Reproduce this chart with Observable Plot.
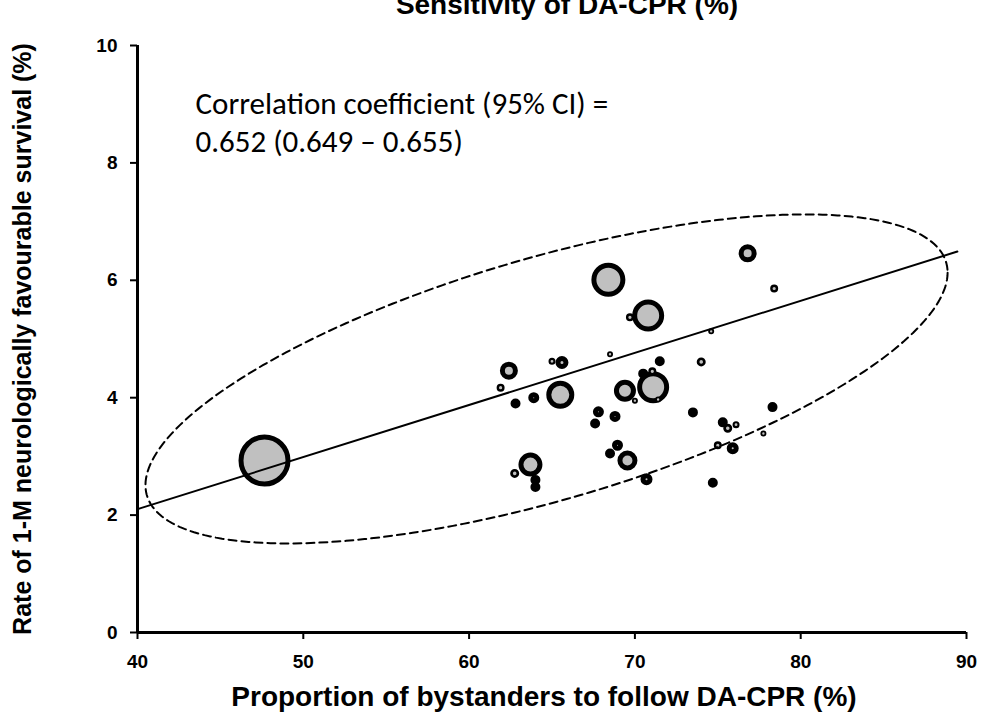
<!DOCTYPE html>
<html>
<head>
<meta charset="utf-8">
<script src="https://cdn.jsdelivr.net/npm/d3@7"></script>
<script src="https://cdn.jsdelivr.net/npm/@observablehq/plot@0.6"></script>
<style>
  html, body { margin: 0; padding: 0; background: #fff; }
  #chart { width: 983px; height: 728px; overflow: hidden; }
</style>
</head>
<body>
<div id="chart"></div>
<script>
// ---- Data ----
const bystanderPct = [47.66, 68.4, 70.8, 71.1, 65.5, 63.7, 69.55, 69.4, 62.4, 76.8,
  70.7, 65.6, 67.8, 68.8, 68.95, 68.5, 67.6, 62.8, 63.9, 71.5,
  74.0, 73.5, 78.3, 75.3, 75.6, 76.1, 77.75, 75.0, 75.9, 74.7,
  78.4, 74.6, 68.5, 65.0, 61.9, 62.75, 64.0, 64.0, 69.7, 70.5,
  71.05, 70.0, 71.4];
const survivalRate = [2.93, 6.01, 5.40, 4.18, 4.05, 2.86, 2.93, 4.12, 4.46, 6.46,
  2.61, 4.60, 3.76, 3.68, 3.19, 3.05, 3.56, 3.90, 4.00, 4.62,
  4.61, 3.75, 3.84, 3.58, 3.48, 3.54, 3.39, 3.19, 3.14, 2.55,
  5.86, 5.13, 4.74, 4.62, 4.17, 2.71, 2.60, 2.48, 5.37, 4.41,
  4.45, 3.95, 3.97];
// relative bubble size
const bubbleSize = [26, 17, 16, 16, 14, 12, 10, 11, 9, 9,
  6, 6.5, 5.5, 5.5, 5.5, 5, 5, 5, 5.5, 5,
  4.5, 5, 5, 5, 4.5, 3.5, 3, 4, 6, 5,
  4, 3, 3, 3.5, 4, 4.5, 5, 5, 4, 5,
  4, 3, 3];

const xTicks = [40, 50, 60, 70, 80, 90];
const yTicks = [0, 2, 4, 6, 8, 10];

// fitted regression line end points
const regX = [40.1, 89.45];
const regY = [2.11, 6.49];

// prediction ellipse: centre and two conjugate half-axis vectors (data units)
const ellipseCenter = [64.67, 4.32];
const ellipseAxisA = [24.19, 1.81];
const ellipseAxisB = [0, -2.14];

const titleText = "Sensitivity of DA-CPR (%)";
const xLabel = "Proportion of bystanders to follow DA-CPR (%)";
const yLabel = "Rate of 1-M neurologically favourable survival (%)";
const noteText = "Correlation coefficient (95% CI) =\n0.652 (0.649 \u2013 0.655)";

// ---- Build tables ----
const points = bystanderPct.map((x, i) => ({x, y: survivalRate[i], s: bubbleSize[i]}));
const strokeW = s => s >= 5 ? 5 : s * 0.6;
const reg = regX.map((x, i) => ({x, y: regY[i]}));
const ellipse = d3.range(0, 241).map(i => {
  const t = (i / 240) * 2 * Math.PI;
  return {
    x: ellipseCenter[0] + Math.cos(t) * ellipseAxisA[0] + Math.sin(t) * ellipseAxisB[0],
    y: ellipseCenter[1] + Math.cos(t) * ellipseAxisA[1] + Math.sin(t) * ellipseAxisB[1]
  };
});

const chart = Plot.plot({
  width: 983,
  height: 728,
  marginLeft: 137,
  marginRight: 17,
  marginTop: 45,
  marginBottom: 96,
  style: {
    fontFamily: "'Liberation Sans', Arial, sans-serif",
    fontSize: "19px",
    fontWeight: "bold",
    background: "white",
    color: "black",
    overflow: "visible"
  },
  x: {domain: [40, 90]},
  y: {domain: [0, 10]},
  r: {type: "identity"},
  marks: [
    Plot.axisX({ticks: xTicks, tickSize: 7, tickPadding: 15, strokeWidth: 2, label: null, fontSize: 19, fontWeight: "bold"}),
    Plot.axisY({ticks: yTicks, tickSize: 7, tickPadding: 13, strokeWidth: 2, label: null, fontSize: 19, fontWeight: "bold"}),
    Plot.ruleX([40], {strokeWidth: 3}),
    Plot.ruleY([0], {strokeWidth: 3}),
    Plot.dot(points, {
      x: "x", y: "y",
      r: d => d.s - strokeW(d.s) / 2,
      strokeWidth: d => strokeW(d.s),
      fill: "#c0c0c0",
      stroke: "black"
    }),
    Plot.line(reg, {x: "x", y: "y", stroke: "black", strokeWidth: 2}),
    Plot.line(ellipse, {x: "x", y: "y", stroke: "black", strokeWidth: 2, strokeDasharray: "8,5"}),
    Plot.text([noteText], {
      text: d => d, frameAnchor: "top-left", textAnchor: "start", lineAnchor: "top",
      dx: 58, dy: 42, lineHeight: 1.22,
      fontFamily: "Carlito, Calibri, Lato, sans-serif", fontSize: 31, fontWeight: "normal", fill: "black"
    }),
    Plot.text([yLabel], {
      text: d => d, frameAnchor: "left", textAnchor: "middle", lineAnchor: "middle",
      rotate: -90, dx: -115,
      fontSize: 25, fontWeight: "bold", fill: "black"
    }),
    Plot.text([xLabel], {
      text: d => d, frameAnchor: "bottom", textAnchor: "middle", lineAnchor: "middle", dx: -8, dy: 65,
      fontSize: 28, fontWeight: "bold", fill: "black"
    }),
    Plot.text([titleText], {
      text: d => d, frameAnchor: "top", textAnchor: "middle", lineAnchor: "middle", dx: 15, dy: -40,
      fontSize: 28, fontWeight: "bold", fill: "black"
    })
  ]
});
document.getElementById("chart").appendChild(chart);
</script>
</body>
</html>
